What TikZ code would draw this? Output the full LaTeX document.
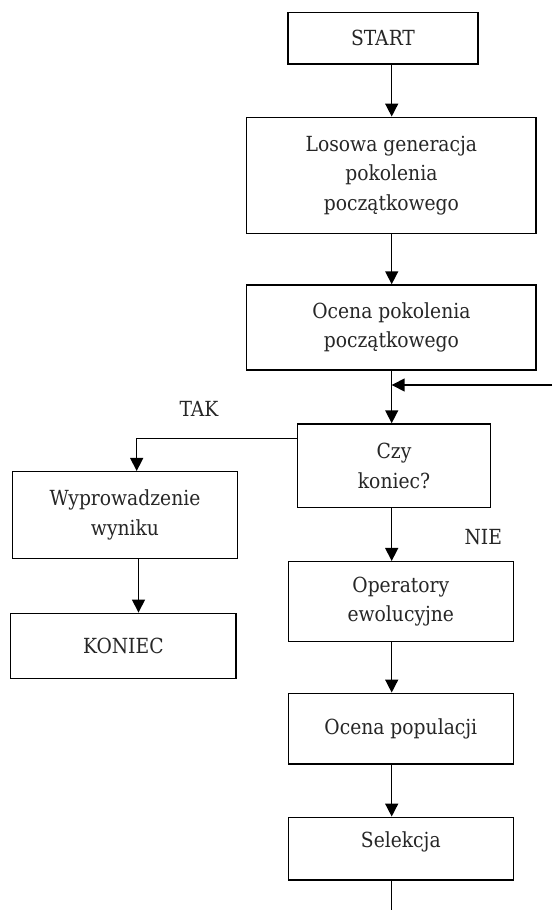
\documentclass[tikz,border=0pt]{standalone}
\usepackage{fontspec}
\setmainfont{DejaVu Serif Condensed}
\usetikzlibrary{arrows.meta}
\begin{document}
\begin{tikzpicture}[x=1pt,y=-1pt,
  box/.style={draw=black, line width=1.5pt, inner sep=0pt, align=center,
    font=\fontsize{20.8}{29.5}\selectfont, text=black!85},
  lbl/.style={font=\fontsize{20.8}{29.5}\selectfont, text=black!85, inner sep=0pt},
  arr/.style={line width=1.5pt, -{Triangle[length=13pt,width=13pt]}},
  ln/.style={line width=1.5pt}]
\useasboundingbox (0,0) rectangle (552,910);
\fill[white] (0,0) rectangle (552,910);
\node[box, minimum width=190pt, minimum height=51.3pt] (start) at (383,38.35) {START};
\node[box, minimum width=289.3pt, minimum height=116pt] (los) at (391.35,175.3) {Losowa generacja\\pokolenia\\początkowego};
\node[box, minimum width=289.3pt, minimum height=85pt] (ocena) at (391.35,327.5) {Ocena pokolenia\\początkowego};
\node[box, minimum width=193.4pt, minimum height=83.7pt] (czy) at (394,465.85) {Czy\\koniec?};
\node[box, minimum width=225.4pt, minimum height=86.6pt] (wyp) at (125,515) {Wyprowadzenie\\wyniku};
\node[box, minimum width=225.3pt, minimum height=65pt] (kon) at (123.35,645.8) {KONIEC};
\node[box, minimum width=225pt, minimum height=80pt] (op) at (400.8,601.7) {Operatory\\ewolucyjne};
\node[box, minimum width=225pt, minimum height=70.7pt] (ocpop) at (400.8,728.65) {Ocena populacji};
\node[box, minimum width=225pt, minimum height=62.7pt] (sel) at (400.8,848.65) {};
\node[lbl] (seltxt) at (400.8,841.7) {Selekcja};
\node[lbl] (tak) at (199,408.5) {TAK};
\node[lbl] (nie) at (483.3,537.3) {NIE};
\coordinate (mx) at (391.7,0);
\coordinate (fb) at (552,385);
\coordinate (endc) at (391.7,912);
\coordinate (lx) at (136.7,0);
\coordinate (lx2) at (138.5,0);
\draw[arr] (start.south -| mx) -- (los.north -| mx);
\draw[arr] (los.south -| mx) -- (ocena.north -| mx);
\draw[arr] (ocena.south -| mx) -- (czy.north -| mx);
\draw[arr] (fb) -- (fb -| mx);
\draw[arr] (czy.west |- 0,438.3) -| (wyp.north -| lx);
\draw[arr] (wyp.south -| lx2) -- (kon.north -| lx2);
\draw[arr] (czy.south -| mx) -- (op.north -| mx);
\draw[arr] (op.south -| mx) -- (ocpop.north -| mx);
\draw[arr] (ocpop.south -| mx) -- (sel.north -| mx);
\draw[ln] (sel.south -| mx) -- (endc);
\end{tikzpicture}
\end{document}
